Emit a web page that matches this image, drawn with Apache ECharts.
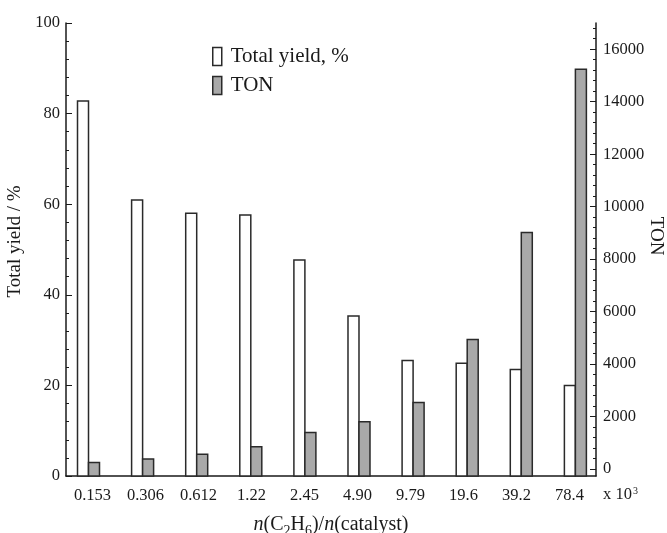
<!DOCTYPE html>
<html>
<head>
<meta charset="utf-8">
<script src="https://cdn.jsdelivr.net/npm/echarts@6/dist/echarts.min.js"></script>
<style>html,body{margin:0;padding:0;background:#fff}#c{width:667px;height:533px}</style>
</head>
<body>
<div id="c"></div>
<script>
// ---- data ----
const categories = ['0.153','0.306','0.612','1.22','2.45','4.90','9.79','19.6','39.2','78.4'];
const totalYield = [82.8, 60.9, 58.0, 57.6, 47.7, 35.3, 25.5, 24.9, 23.5, 20.0];
const ton = [250, 380, 560, 850, 1390, 1800, 2530, 4940, 9010, 15240];
const leftTicks = [0, 20, 40, 60, 80, 100];
const rightTicks = [0, 2000, 4000, 6000, 8000, 10000, 12000, 14000, 16000];
const rightMinor = [];
for (let v = 0; v <= 16800; v += 400) rightMinor.push(v);

const TON_MIN = -267, TON_MAX = 17000;
const BW = 11;
const FONT = 'Liberation Serif';
const INK = '#1a1a1a';
const EDGE = '#2a2a2a';

const chart = echarts.init(document.getElementById('c'), null, {renderer: 'canvas'});

function barItem(offset, axisMin, fill) {
  return function (params, api) {
    const x = api.value(0), v = api.value(1);
    const top = api.coord([x, v]);
    const bot = api.coord([x, axisMin]);
    return {
      type: 'rect',
      shape: {x: top[0] + offset, y: top[1], width: BW, height: bot[1] - top[1]},
      style: {fill: fill, stroke: EDGE, lineWidth: 1.5}
    };
  };
}

const option = {
  animation: false,
  textStyle: {fontFamily: FONT, color: INK},
  grid: {left: 66, right: 71, top: 23, bottom: 57, containLabel: false, outerBoundsMode: 'none'},
  legend: {
    orient: 'vertical', left: 207, top: 41,
    itemWidth: 9, itemHeight: 18, itemGap: 8,
    textStyle: {fontFamily: FONT, fontSize: 21, color: INK, padding: [0,0,0,4]},
    data: [
      {name: 'Total yield, %', icon: 'rect', itemStyle: {color: '#ffffff', borderColor: EDGE, borderWidth: 1.5}},
      {name: 'TON', icon: 'rect', itemStyle: {color: '#a9a9a9', borderColor: EDGE, borderWidth: 1.5}}
    ]
  },
  xAxis: [
    {
      type: 'category', data: categories, boundaryGap: true,
      axisLine: {onZero: false, lineStyle: {color: INK, width: 1.5}},
      axisTick: {inside: true, alignWithLabel: true, length: 4, lineStyle: {color: INK}},
      axisLabel: {fontFamily: FONT, fontSize: 16.5, color: INK, margin: 11},
      name: '{i|n}{r|(C}{s|2}{r|H}{s|6}{r|)/}{i|n}{r|(catalyst)}',
      nameLocation: 'middle', nameGap: 36,
      nameTextStyle: {
        rich: {
          i: {fontFamily: FONT, fontSize: 20, fontStyle: 'italic', color: INK},
          r: {fontFamily: FONT, fontSize: 20, color: INK},
          s: {fontFamily: FONT, fontSize: 14, color: INK, verticalAlign: 'bottom', padding: [12,0,0,0]}
        }
      }
    },
    {
      type: 'value', min: -0.416, max: 9.381, show: false
    }
  ],
  yAxis: [
    {
      type: 'value', position: 'left', min: 0, max: 100, interval: 20,
      axisLine: {show: true, onZero: false, lineStyle: {color: INK, width: 1.5}},
      axisTick: {show: true, inside: true, length: 6, lineStyle: {color: INK}},
      minorTick: {show: true, splitNumber: 5, length: 3, lineStyle: {color: INK}},
      splitLine: {show: false},
      axisLabel: {fontFamily: FONT, fontSize: 16.5, color: INK, margin: 6},
      name: 'Total yield / %', nameLocation: 'middle', nameGap: 29,
      nameTextStyle: {fontFamily: FONT, fontSize: 19, color: INK, padding: [0,0,0,16]}
    },
    {
      type: 'value', position: 'right', min: TON_MIN, max: TON_MAX,
      axisLine: {show: true, onZero: false, lineStyle: {color: INK, width: 1.5}},
      axisTick: {show: true, inside: true, length: 6, customValues: rightTicks, lineStyle: {color: INK}},
      splitLine: {show: false},
      axisLabel: {fontFamily: FONT, fontSize: 16.5, color: INK, margin: 7, customValues: rightTicks,
                  formatter: v => String(v)}
    },
    {
      type: 'value', position: 'right', min: TON_MIN, max: TON_MAX,
      axisLine: {show: false, onZero: false},
      axisTick: {show: true, inside: true, length: 3, customValues: rightMinor, lineStyle: {color: INK}},
      splitLine: {show: false},
      axisLabel: {show: false}
    }
  ],
  graphic: [
    {
      type: 'text', left: 603, top: 486,
      style: {
        text: '{a|x 10}{b|3}',
        rich: {
          a: {fontFamily: FONT, fontSize: 16.5, fill: INK},
          b: {fontFamily: FONT, fontSize: 10, fill: INK, verticalAlign: 'top', padding: [0,0,8,1]}
        }
      }
    },
    {
      type: 'text', x: 656, y: 236, rotation: -Math.PI / 2,
      style: {text: 'TON', fontFamily: FONT, fontSize: 19, fill: INK, align: 'center', verticalAlign: 'middle'}
    }
  ],
  series: [
    {
      name: 'Total yield, %', type: 'custom', xAxisIndex: 1, yAxisIndex: 0,
      itemStyle: {color: '#ffffff', borderColor: EDGE},
      renderItem: barItem(-BW, 0, '#ffffff'),
      data: totalYield.map((v, i) => [i, v]),
      z: 3
    },
    {
      name: 'TON', type: 'custom', xAxisIndex: 1, yAxisIndex: 1,
      itemStyle: {color: '#a9a9a9', borderColor: EDGE},
      renderItem: barItem(0, TON_MIN, '#a9a9a9'),
      data: ton.map((v, i) => [i, v]),
      z: 3
    }
  ]
};
chart.setOption(option);
</script>
</body>
</html>
